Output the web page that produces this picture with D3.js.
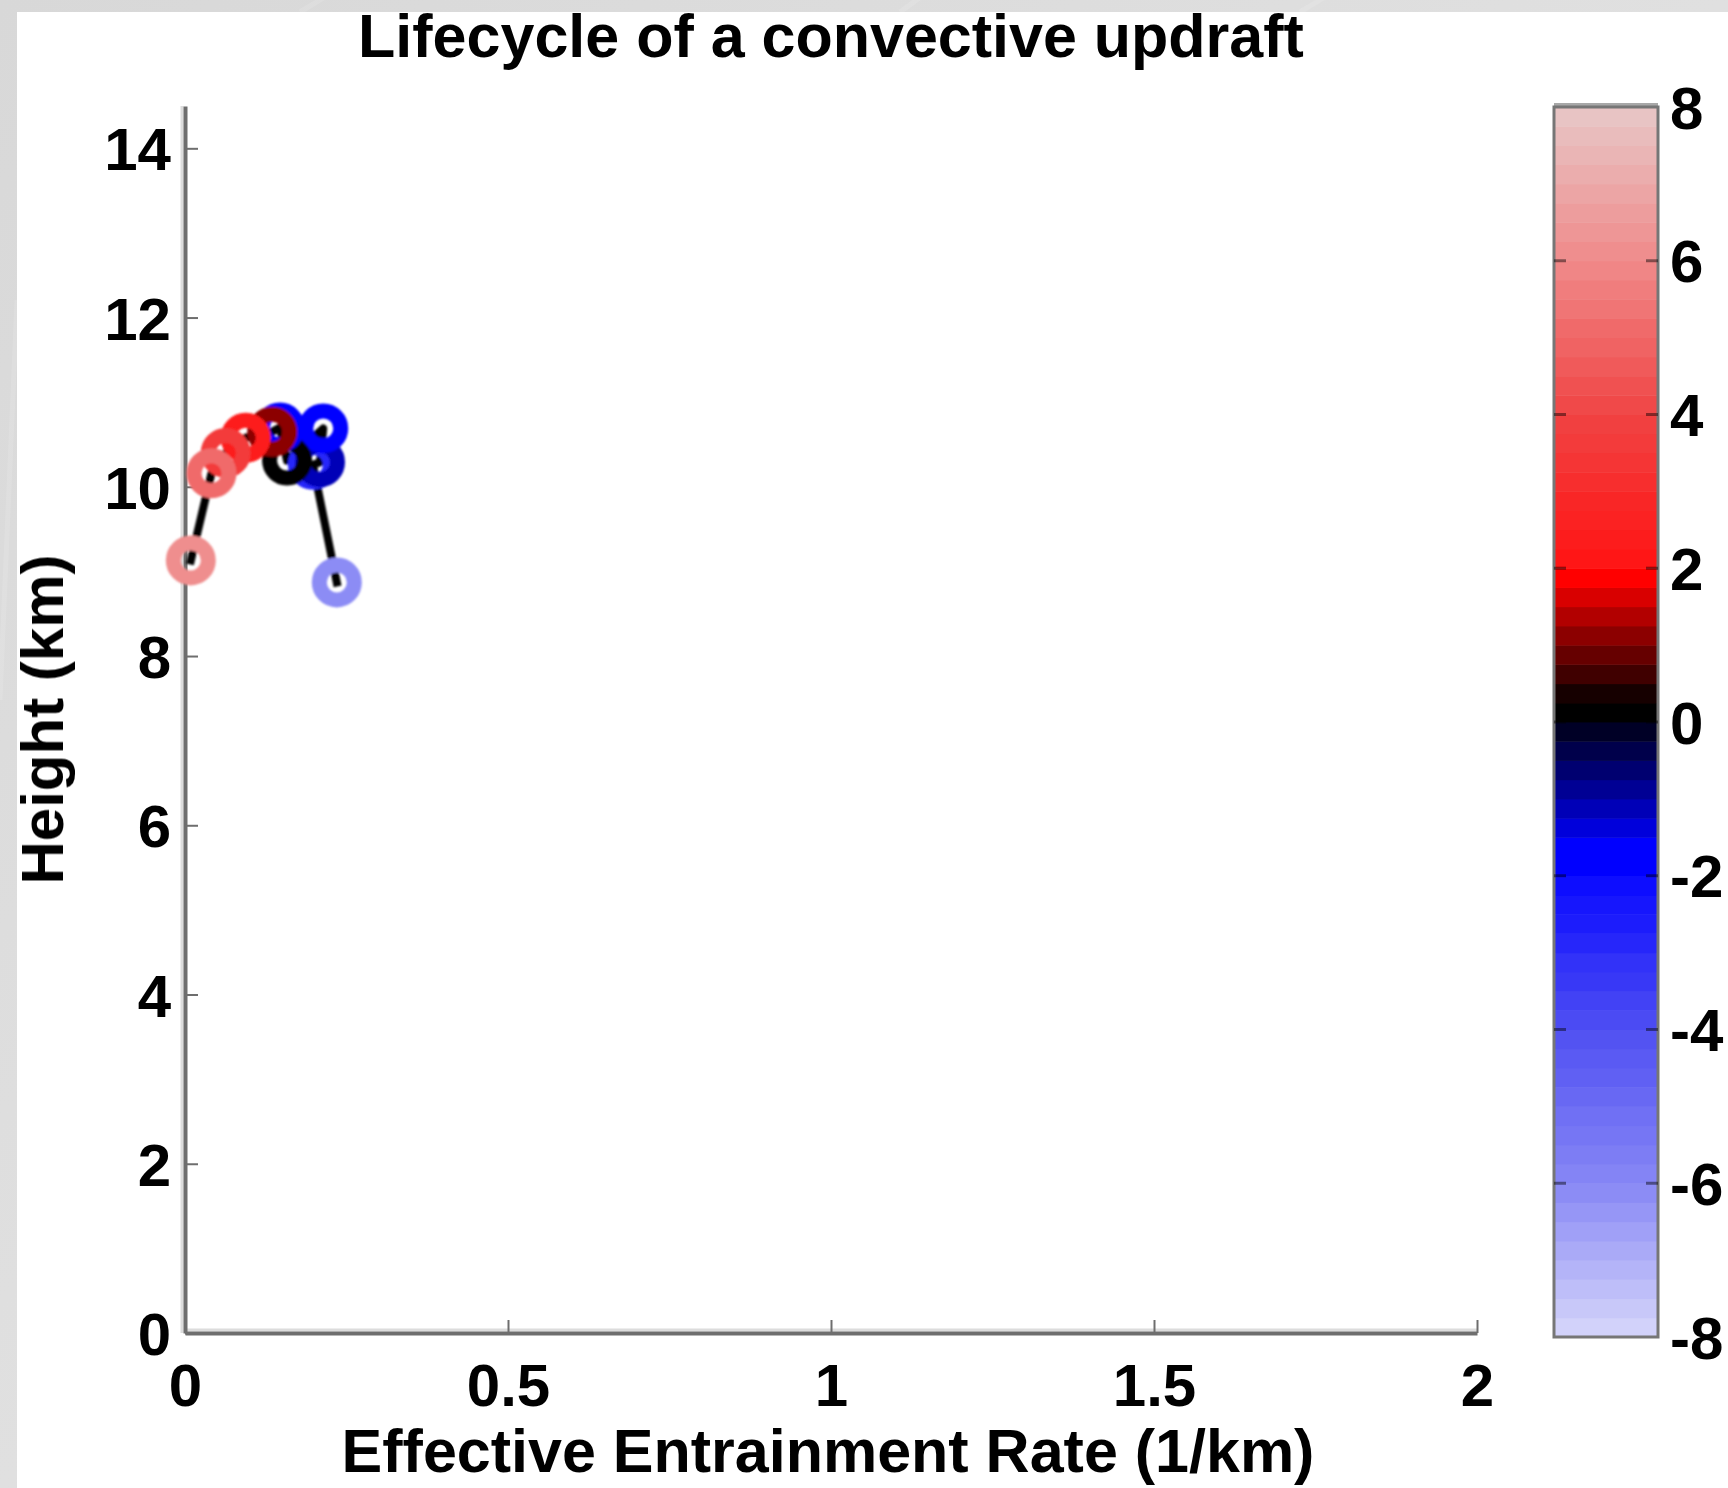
<!DOCTYPE html>
<html>
<head>
<meta charset="utf-8">
<script src="https://cdn.jsdelivr.net/npm/d3@7"></script>
<style>
  html, body { margin: 0; padding: 0; background: #dadada; }
  svg { display: block; }
  text { font-family: "Liberation Sans", Arial, Helvetica, sans-serif; font-weight: bold; fill: #000; }
</style>
</head>
<body>
<svg id="chart" width="1728" height="1488"></svg>
<script>
// ---- data ----
const entrainment = [0.009, 0.041, 0.063, 0.094, 0.135, 0.147, 0.158, 0.214, 0.209, 0.198, 0.235];
const heightKm    = [9.13, 10.16, 10.40, 10.58, 10.65, 10.70, 10.31, 10.69, 10.29, 10.26, 8.87];
const velocity    = [6.0, 5.0, 3.5, 2.4, 1.0, -1.9, 0.0, -1.7, -1.2, -3.0, -6.2];

const xTicks = [0, 0.5, 1, 1.5, 2];
const xTickLabels = ["0", "0.5", "1", "1.5", "2"];
const yTicks = [0, 2, 4, 6, 8, 10, 12, 14];
const cTicks = [-8, -6, -4, -2, 0, 2, 4, 6, 8];
const cTickLabels = ["-8", "-6", "-4", "-2", "0", "2", "4", "6", "8"];

const titleText = "Lifecycle of a convective updraft";
const xLabel = "Effective Entrainment Rate (1/km)";
const yLabel = "Height (km)";

// colormap stops (value -> colour), 64 discrete bands
const cmapValues = [-7.875, -6, -4, -2.125, -1.625, -0.125, 0.125, 0.375, 1.875, 2.125, 4, 6, 7.875];
const cmapColors = ["#d2d2fa", "#8787f5", "#5050f2", "#0c0cff", "#0000ff", "#000028", "#000000",
                    "#190000", "#ff0000", "#ff1414", "#f04444", "#f08a8a", "#e8c4c4"];
const cLimits = [-8, 8];
const nBands = 64;

// ---- setup ----
const svg = d3.select("#chart");
const W = 1728, H = 1488;

const defs = svg.append("defs");
const grad = defs.append("linearGradient").attr("id", "bgGrad")
  .attr("x1", "0").attr("y1", "0").attr("x2", "1").attr("y2", "1");
grad.append("stop").attr("offset", "0%").attr("stop-color", "#d8d8d8");
grad.append("stop").attr("offset", "50%").attr("stop-color", "#e0e0e0");
grad.append("stop").attr("offset", "100%").attr("stop-color", "#d9d9d9");
defs.append("filter").attr("id", "soft").append("feGaussianBlur").attr("stdDeviation", 1.3);
defs.append("filter").attr("id", "softText").append("feGaussianBlur").attr("stdDeviation", 0.6);

svg.append("rect").attr("width", W).attr("height", H).attr("fill", "url(#bgGrad)");
const streaks = svg.append("g").attr("stroke", "#ffffff").attr("stroke-opacity", 0.12).attr("stroke-width", 5);
[[300, 12, 420, -60], [900, 12, 1000, -60], [1300, 12, 1420, -60], [0, 700, 17, 300]]
  .forEach(s => streaks.append("line").attr("x1", s[0]).attr("y1", s[1]).attr("x2", s[2]).attr("y2", s[3]));
svg.append("rect").attr("x", 17).attr("y", 12).attr("width", W - 17).attr("height", H - 12).attr("fill", "#ffffff");

const root = svg.append("g").attr("filter", "url(#softText)");

// ---- scales ----
const x = d3.scaleLinear().domain([0, 2]).range([185, 1477]);
const y = d3.scaleLinear().domain([0, 14.5]).range([1333, 106]);
const cbar = d3.scaleLinear().domain(cLimits).range([1337, 107]);

const cInterp = d3.scaleLinear().domain(cmapValues).range(cmapColors)
  .interpolate(d3.interpolateRgb).clamp(true);
const bandW = (cLimits[1] - cLimits[0]) / nBands;
function cmap(v) {
  let i = Math.floor((v - cLimits[0]) / bandW);
  i = Math.max(0, Math.min(nBands - 1, i));
  return cInterp(cLimits[0] + (i + 0.5) * bandW);
}

// ---- title ----
root.append("text").attr("x", (x(0) + x(2)) / 2).attr("y", 57)
  .attr("text-anchor", "middle").attr("font-size", 61).text(titleText);

// ---- axes ----
root.append("line").attr("x1", x(0) - 3).attr("x2", x(0) - 3).attr("y1", y(14.5)).attr("y2", y(0))
  .attr("stroke", "#dcdcdc").attr("stroke-width", 3);
root.append("line").attr("x1", x(0)).attr("x2", x(2)).attr("y1", y(0) - 3).attr("y2", y(0) - 3)
  .attr("stroke", "#dcdcdc").attr("stroke-width", 3);

const xAxis = d3.axisBottom(x).tickValues(xTicks).tickFormat((d, i) => xTickLabels[i])
  .tickSizeInner(-13).tickSizeOuter(0).tickPadding(34);
const gx = root.append("g").attr("transform", `translate(0,${y(0)})`).call(xAxis);
gx.select(".domain").attr("stroke", "#6e6e6e").attr("stroke-width", 4);
gx.selectAll(".tick line").attr("stroke", "#6e6e6e").attr("stroke-width", 2);
gx.selectAll(".tick text").attr("font-size", 60).attr("font-family", null).attr("dy", "0.71em")
  .attr("y", 30);

const yAxis = d3.axisLeft(y).tickValues(yTicks).tickFormat(d => String(d))
  .tickSizeInner(-13).tickSizeOuter(0).tickPadding(14);
const gy = root.append("g").attr("transform", `translate(${x(0)},0)`).call(yAxis);
gy.select(".domain").attr("stroke", "#6e6e6e").attr("stroke-width", 4);
gy.selectAll(".tick line").attr("stroke", "#6e6e6e").attr("stroke-width", 2);
gy.selectAll(".tick text").attr("font-size", 60).attr("font-family", null).attr("dy", "0.36em");
root.selectAll(".tick text").attr("fill", "#000");

// axis labels
root.append("text").attr("x", 828).attr("y", 1472).attr("text-anchor", "middle")
  .attr("font-size", 61).text(xLabel);
root.append("text").attr("transform", `translate(63,${(y(0) + y(14.5)) / 2}) rotate(-90)`)
  .attr("text-anchor", "middle").attr("font-size", 60).text(yLabel);

// ---- data: trajectory line + ring markers ----
const pts = entrainment.map((e, i) => ({ e, h: heightKm[i], v: velocity[i] }));
const dataG = svg.append("g").attr("filter", "url(#soft)");
const line = d3.line().x(d => x(d.e)).y(d => y(d.h));
dataG.append("path").datum(pts).attr("d", line).attr("fill", "none")
  .attr("stroke", "#000").attr("stroke-width", 8)
  .attr("stroke-linejoin", "round").attr("stroke-linecap", "square");

dataG.append("g").selectAll("circle").data(pts.slice().reverse()).join("circle")
  .attr("cx", d => x(d.e)).attr("cy", d => y(d.h)).attr("r", 17.5)
  .attr("fill", "none").attr("stroke", d => cmap(d.v)).attr("stroke-width", 15);

// ---- colorbar ----
const cbX = 1554, cbW = 104;
const bands = d3.range(nBands).map(i => cLimits[0] + i * bandW);
root.append("g").selectAll("rect").data(bands).join("rect")
  .attr("x", cbX).attr("width", cbW)
  .attr("y", d => cbar(d + bandW)).attr("height", d => cbar(d) - cbar(d + bandW) + 0.5)
  .attr("fill", d => cmap(d + bandW / 2));
root.append("line").attr("x1", cbX).attr("x2", cbX + cbW).attr("y1", cbar(8) - 2).attr("y2", cbar(8) - 2)
  .attr("stroke", "#a8a8a8").attr("stroke-width", 4);
root.append("rect").attr("x", cbX).attr("y", cbar(8)).attr("width", cbW).attr("height", cbar(-8) - cbar(8))
  .attr("fill", "none").attr("stroke", "#767676").attr("stroke-width", 3);
const cTickG = root.append("g");
cTicks.filter(t => Math.abs(t) < 8).forEach(t => {
  cTickG.append("line").attr("x1", cbX).attr("x2", cbX + 12).attr("y1", cbar(t)).attr("y2", cbar(t))
    .attr("stroke", "#000").attr("stroke-opacity", 0.45).attr("stroke-width", 3);
  cTickG.append("line").attr("x1", cbX + cbW - 12).attr("x2", cbX + cbW).attr("y1", cbar(t)).attr("y2", cbar(t))
    .attr("stroke", "#000").attr("stroke-opacity", 0.45).attr("stroke-width", 3);
});
root.append("g").selectAll("text").data(cTicks).join("text")
  .attr("x", 1670).attr("y", d => cbar(d)).attr("dy", "0.36em")
  .attr("font-size", 60).text((d, i) => cTickLabels[i]);
</script>
</body>
</html>
